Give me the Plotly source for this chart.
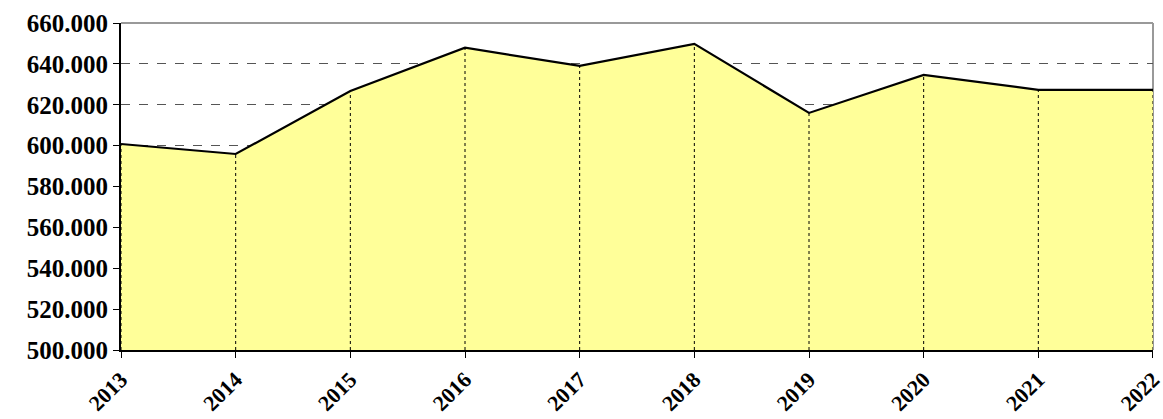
import plotly.graph_objects as go

years = [2013, 2014, 2015, 2016, 2017, 2018, 2019, 2020, 2021, 2022]
values = [600800, 595900, 626700, 647900, 639000, 649800, 616000, 634600, 627300, 627300]
y_ticks = [500000, 520000, 540000, 560000, 580000, 600000, 620000, 640000, 660000]
y_tick_labels = ["500.000", "520.000", "540.000", "560.000", "580.000", "600.000", "620.000", "640.000", "660.000"]
y_min = 500000
y_max = 660000

fig = go.Figure()
fig.add_trace(go.Scatter(
    x=years, y=[y_min] * len(years), mode="lines",
    line=dict(width=0), showlegend=False, hoverinfo="skip"))
fig.add_trace(go.Scatter(
    x=years, y=values, mode="lines", fill="tonexty",
    fillcolor="#FFFF99", line=dict(color="black", width=2.2),
    showlegend=False))

shapes = []
for xv, yv in zip(years, values):
    shapes.append(dict(type="line", xref="x", yref="y", x0=xv, x1=xv,
                       y0=y_min, y1=yv, line=dict(color="black", width=1, dash="dot"),
                       layer="above"))
# plot-area border top/right
shapes.append(dict(type="line", xref="paper", yref="paper", x0=0, x1=1, y0=1, y1=1,
                   line=dict(color="#999999", width=2), layer="above"))
shapes.append(dict(type="line", xref="paper", yref="paper", x0=1, x1=1, y0=0, y1=1,
                   line=dict(color="#999999", width=2), layer="below"))

fig.update_layout(
    width=1163, height=419,
    margin=dict(l=121, r=10, t=23, b=69),
    paper_bgcolor="white", plot_bgcolor="white",
    shapes=shapes,
    font=dict(family="Liberation Serif", size=24, color="black"),
    xaxis=dict(
        range=[2012.9999, 2022.0001], tickmode="array", tickvals=years,
        ticktext=["<b>%d</b>" % y for y in years],
        tickangle=-45, ticks="outside", ticklen=6, tickcolor="black",
        ticklabeloverflow="allow", automargin=False,
        showline=True, linecolor="black", linewidth=2,
        showgrid=False, zeroline=False,
        tickfont=dict(family="Liberation Serif", size=22, color="black")),
    yaxis=dict(
        range=[y_min, y_max], tickmode="array", tickvals=y_ticks,
        ticktext=["<b>%s</b>" % t for t in y_tick_labels],
        ticks="outside", ticklen=6, tickcolor="black",
        ticklabeloverflow="allow", automargin=False,
        showline=True, linecolor="black", linewidth=2,
        showgrid=True, gridcolor="#555555", griddash="dash", gridwidth=1,
        zeroline=False,
        tickfont=dict(family="Liberation Serif", size=25, color="black")),
)

fig.write_html("out.html",
               config={"displayModeBar": False},
               post_script="document.body.style.margin='0';document.body.style.overflow='hidden';")
